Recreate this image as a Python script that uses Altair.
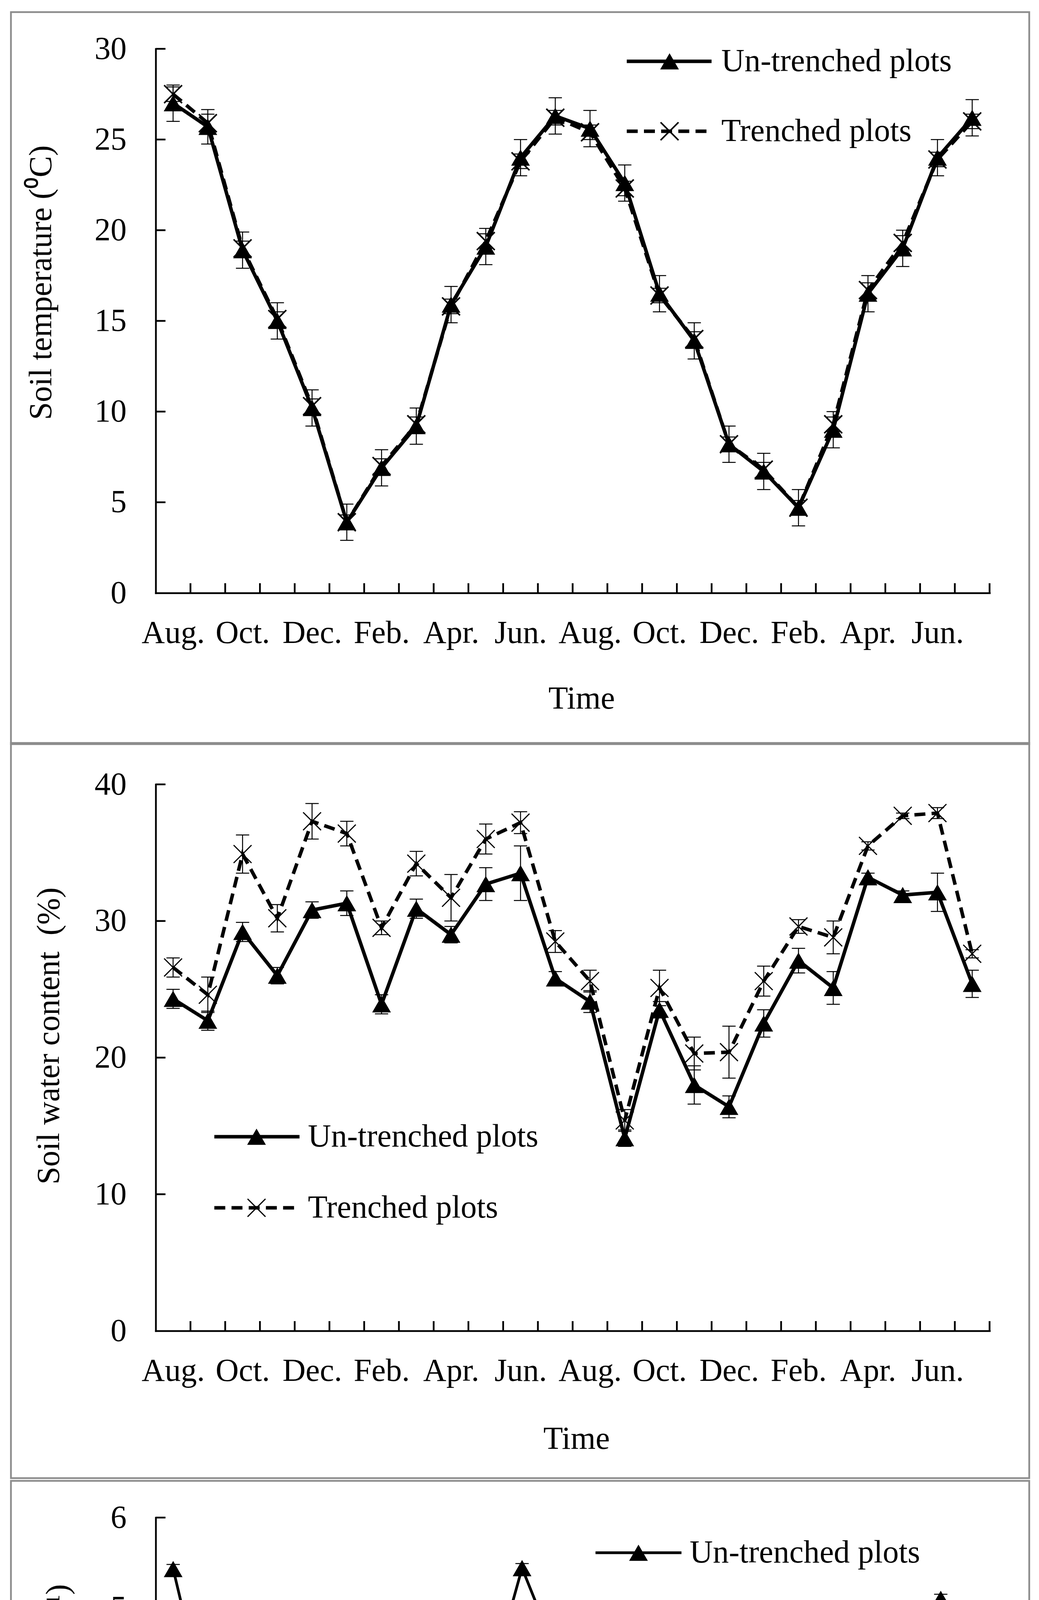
import altair as alt
import pandas as pd

# ---------------- data ----------------
categories = ["Aug.", "Sep.", "Oct.", "Nov.", "Dec.", "Jan.", "Feb.", "Mar.", "Apr.", "May", "Jun.", "Jul.",
              "Aug.", "Sep.", "Oct.", "Nov.", "Dec.", "Jan.", "Feb.", "Mar.", "Apr.", "May", "Jun.", "Jul."]
tick_labels = ["Aug.", "Oct.", "Dec.", "Feb.", "Apr.", "Jun.", "Aug.", "Oct.", "Dec.", "Feb.", "Apr.", "Jun."]
series_names = ["Un-trenched plots", "Trenched plots"]

temp_un = [27.0, 25.7, 18.9, 15.0, 10.2, 3.9, 6.9, 9.2, 15.9, 19.1, 24.0, 26.3,
           25.6, 22.6, 16.5, 13.9, 8.2, 6.7, 4.7, 9.0, 16.5, 19.0, 24.0, 26.2]
temp_un_se = [1.0, 0.95, 1.0, 1.0, 1.0, 1.0, 1.0, 1.0, 1.0, 1.0, 1.0, 1.0,
              1.0, 1.0, 1.0, 1.0, 1.0, 1.0, 1.0, 1.0, 1.0, 1.0, 1.0, 1.0]
temp_tr = [27.5, 25.9, 19.0, 15.1, 10.3, 3.9, 7.0, 9.3, 15.8, 19.4, 23.8, 26.2,
           25.4, 22.3, 16.4, 14.0, 8.2, 6.8, 4.7, 9.3, 16.7, 19.3, 23.9, 26.0]
temp_tr_se = [0.4, 0.5, 0.4, 0.4, 0.4, 0.4, 0.4, 0.4, 0.4, 0.4, 0.4, 0.4,
              0.4, 0.4, 0.4, 0.4, 0.4, 0.4, 0.4, 0.4, 0.4, 0.4, 0.4, 0.4]
temp_ticks = [5, 10, 15, 20, 25, 30]
temp_labels = [0, 5, 10, 15, 20, 25, 30]

water_un = [24.3, 22.7, 29.2, 26.0, 30.8, 31.3, 23.9, 30.9, 29.0, 32.7, 33.5, 25.8,
            24.1, 14.1, 23.5, 18.0, 16.4, 22.5, 27.1, 25.1, 33.2, 31.9, 32.1, 25.4]
water_un_se = [0.7, 0.7, 0.7, 0.6, 0.6, 0.9, 0.7, 0.7, 0.6, 1.2, 2.0, 0.5,
               0.8, 0.6, 0.6, 1.4, 0.8, 1.0, 0.9, 1.2, 0.3, 0.3, 1.4, 1.0]
water_tr = [26.6, 24.6, 34.9, 30.2, 37.3, 36.4, 29.5, 34.2, 31.7, 36.0, 37.2, 28.5,
            25.6, 15.4, 25.1, 20.3, 20.4, 25.6, 29.6, 28.8, 35.5, 37.7, 37.9, 27.6]
water_tr_se = [0.7, 1.3, 1.4, 1.0, 1.3, 0.9, 0.5, 0.9, 1.7, 1.1, 0.8, 0.8,
               0.8, 0.8, 1.3, 1.2, 1.9, 1.1, 0.5, 1.2, 0.3, 0.2, 0.4, 0.3]
water_ticks = [10, 20, 30, 40]
water_labels = [0, 10, 20, 30, 40]

resp_un = [5.43, 3.81, 3.22, 2.10, 1.63, 0.97, 1.12, 1.21, 3.54, 4.05, 5.44, 4.48,
           3.61, 2.60, 2.80, 2.19, 1.60, 1.17, 0.99, 1.30, 2.93, 3.68, 5.10, 4.05]
resp_un_se = [0.05, 0.05, 0.05, 0.05, 0.05, 0.03, 0.03, 0.04, 0.05, 0.05, 0.05, 0.06,
              0.05, 0.04, 0.05, 0.04, 0.04, 0.04, 0.04, 0.04, 0.05, 0.05, 0.05, 0.05]
resp_tr = [2.78, 1.72, 1.65, 1.16, 1.25, 0.61, 0.87, 0.99, 1.96, 2.56, 2.93, 2.78,
           2.38, 1.39, 1.49, 1.49, 1.16, 0.81, 0.67, 0.93, 1.60, 2.12, 2.48, 2.18]
resp_tr_se = [0.06, 0.05, 0.04, 0.05, 0.04, 0.04, 0.04, 0.04, 0.05, 0.05, 0.15, 0.10,
              0.10, 0.05, 0.05, 0.05, 0.08, 0.04, 0.05, 0.04, 0.05, 0.06, 0.10, 0.08]
resp_ticks = [1, 2, 3, 4, 5, 6]
resp_labels = [0, 1, 2, 3, 4, 5, 6]

# ---------------- style ----------------
FONT = "Liberation Serif"
FS = 82
GRAY = "#8c8c8c"
AXW = 4.5
FRW = 4.5
X_SHAPE = "M-1,-1L1,1M-1,1L1,-1"
CAP_SHAPE = "M-1,0L1,0"
DASH = [28, 16]
NCAT = len(categories)


def make_df(vals, ses, name):
    return pd.DataFrame({
        "pos": [i + 0.5 for i in range(NCAT)],
        "month": categories,
        "series": name,
        "value": vals,
        "lo": [v - s for v, s in zip(vals, ses)],
        "hi": [v + s for v, s in zip(vals, ses)],
    })


def panel(un, tr, ymax, yticks, ylabels, ytitle, W, H, frame_top, frame_bottom, extra_below,
          ytx, yty, tx, ty, leg, lw, xw):
    xs = alt.Scale(domain=[0, NCAT], nice=False, zero=False)
    ys = alt.Scale(domain=[0, ymax], nice=False, zero=True)
    one = pd.DataFrame({"k": [0]})

    label_js = "[" + ",".join("'%s'" % t for t in tick_labels) + "][floor(datum.value/2)]"
    xaxis = alt.Axis(values=[2 * i + 0.5 for i in range(len(tick_labels))], labelExpr=label_js,
                     ticks=False, tickSize=0, grid=False, title="Time", titleX=tx, titleY=ty,
                     titleBaseline="alphabetic", titleAlign="center", labelBaseline="alphabetic",
                     labelPadding=127, labelAlign="center", labelFlush=False, labelOverlap=False,
                     zindex=2)
    yaxis = alt.Axis(values=ylabels, ticks=False, tickSize=0, grid=False, title=ytitle,
                     titleX=ytx, titleY=yty, titleAngle=270, titleBaseline="alphabetic",
                     titleAlign="center", labelPadding=75, labelBaseline="middle", labelAlign="right",
                     labelFlush=False, labelOverlap=False, zindex=2)

    def X(f):
        return alt.X(f, scale=xs, axis=xaxis)

    def Y(f):
        return alt.Y(f, scale=ys, axis=yaxis)

    layers = [alt.Chart(un).mark_line(color="black", strokeWidth=lw).encode(
        x=X("pos:Q"), y=Y("value:Q"))]

    # panel frame (decoration)
    layers.append(alt.Chart(one).mark_rect(filled=False, color=GRAY, stroke=GRAY, strokeWidth=FRW).encode(
        x=alt.value(-370.5), x2=alt.value(2235.5), y=alt.value(frame_top), y2=alt.value(frame_bottom)))
    if extra_below > 0:
        # invisible spacer that keeps the gap below this panel's frame
        layers.append(alt.Chart(one).mark_rule(strokeOpacity=0, color=GRAY).encode(
            x=alt.value(0), y=alt.value(frame_bottom), y2=alt.value(frame_bottom + extra_below)))

    layers.append(alt.Chart(pd.DataFrame({"v": yticks})).mark_rule(color="black", strokeWidth=AXW).encode(
        y=Y("v:Q"), x=alt.value(0), x2=alt.value(25)))
    layers.append(alt.Chart(pd.DataFrame({"b": list(range(1, NCAT + 1))})).mark_rule(
        color="black", strokeWidth=AXW).encode(
        x=X("b:Q"), y=alt.value(H), y2=alt.value(H - 25)))

    for d in (un, tr):
        layers.append(alt.Chart(d).mark_rule(color="black", strokeWidth=2.5).encode(
            x=X("pos:Q"), y=Y("lo:Q"), y2="hi:Q"))
        for f in ("lo", "hi"):
            layers.append(alt.Chart(d).mark_point(shape=CAP_SHAPE, size=34 * 34, filled=False,
                                                  stroke="black", strokeWidth=2.5, opacity=1).encode(
                x=X("pos:Q"), y=Y(f + ":Q")))

    layers.append(alt.Chart(tr).mark_line(color="black", strokeWidth=lw, strokeDash=DASH).encode(
        x=X("pos:Q"), y=Y("value:Q")))
    layers.append(alt.Chart(un).mark_point(shape="triangle-up", filled=True, size=2300,
                                           color="black", opacity=1).encode(
        x=X("pos:Q"), y=Y("value:Q")))
    layers.append(alt.Chart(tr).mark_point(shape=X_SHAPE, filled=False, size=2100, stroke="black",
                                           strokeWidth=xw, opacity=1).encode(
        x=X("pos:Q"), y=Y("value:Q")))

    # legend
    x0, x1, xm, xt, r1, r2 = leg
    for name, yy, kind in ((series_names[0], r1, "un"), (series_names[1], r2, "tr")):
        d = pd.DataFrame({"label": [name]})
        kw = dict(color="black", strokeWidth=lw)
        if kind == "tr":
            kw["strokeDash"] = DASH
        layers.append(alt.Chart(d).mark_rule(**kw).encode(
            x=alt.value(x0), x2=alt.value(x1), y=alt.value(yy)))
        if kind == "un":
            layers.append(alt.Chart(d).mark_point(shape="triangle-up", filled=True, size=2300,
                                                  color="black", opacity=1).encode(
                x=alt.value(xm), y=alt.value(yy)))
        else:
            layers.append(alt.Chart(d).mark_point(shape=X_SHAPE, filled=False, size=2100,
                                                  stroke="black", strokeWidth=xw, opacity=1).encode(
                x=alt.value(xm), y=alt.value(yy)))
        layers.append(alt.Chart(d).mark_text(align="left", baseline="middle", font=FONT, fontSize=FS,
                                             color="black").encode(
            x=alt.value(xt), y=alt.value(yy), text="label:N"))

    return alt.layer(*layers).properties(width=W, height=H)


p1 = panel(make_df(temp_un, temp_un_se, series_names[0]), make_df(temp_tr, temp_tr_se, series_names[1]),
           30, temp_ticks, temp_labels, "Soil temperature (\u2070C)", 2134, 1393, -94, 1780, 0,
           -268, 598, 1089.5, 295.5, (1205.5, 1422.5, 1315, 1447.5, 32, 211), 9, 4)
p2 = panel(make_df(water_un, water_un_se, series_names[0]), make_df(water_tr, water_tr_se, series_names[1]),
           40, water_ticks, water_labels, "Soil water content\u00a0 (%)", 2134, 1399, -106, 1776, 12.5,
           -248.5, 643.5, 1076.5, 301, (150, 368, 258, 389.5, 902, 1084), 9, 3)
p3 = panel(make_df(resp_un, resp_un_se, series_names[0]), make_df(resp_tr, resp_tr_se, series_names[1]),
           6, resp_ticks, resp_labels, "Soil repiration (\u03bcmol\u00b7m\u00b2\u00b7s\u207b\u00b9)", 2143, 1386,
           -94, 1773, 0, -225.5, 642.7, 1084.5, 283, (1125.5, 1345.5, 1235.5, 1366.5, 90, 288), 7, 5)

chart = alt.vconcat(p1, p2, p3, spacing=-9).properties(
    padding={"left": 16.5, "top": 20, "right": 5, "bottom": 3}
).configure_view(stroke="transparent").configure_axis(
    labelFont=FONT, labelFontSize=FS, labelColor="black",
    titleFont=FONT, titleFontSize=FS, titleFontWeight="normal", titleColor="black",
    domainColor="black", domainWidth=AXW, domainCap="square")

chart.save("out.html", embed_options={"renderer": "svg", "actions": False})
